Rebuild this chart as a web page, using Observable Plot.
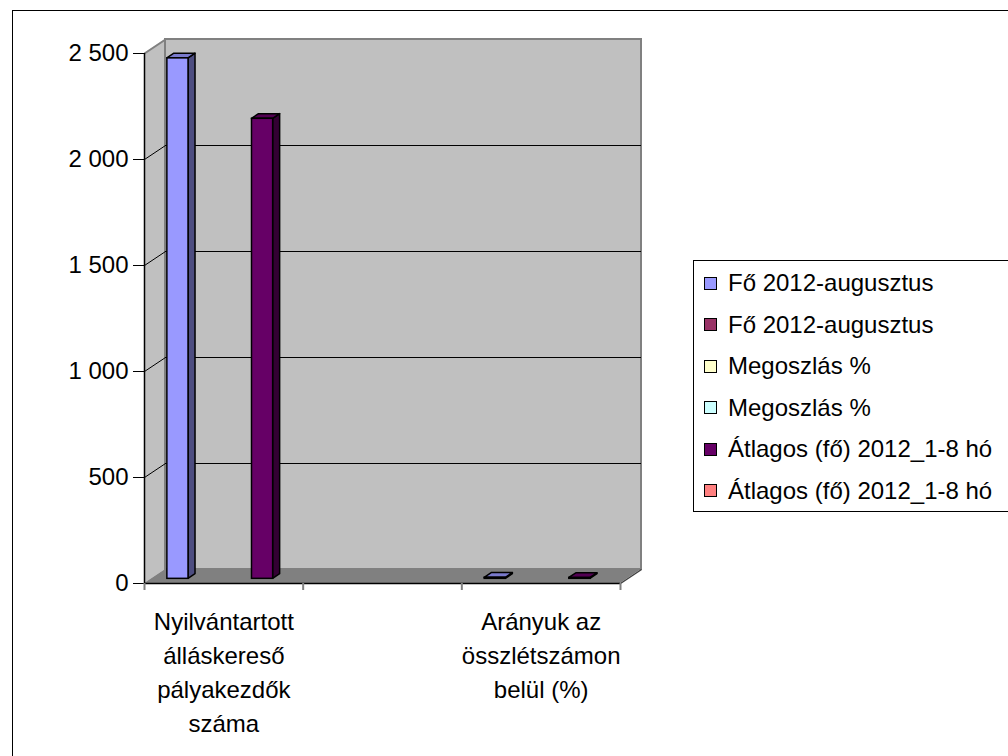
<!DOCTYPE html>
<html><head><meta charset="utf-8">
<script src="https://cdn.jsdelivr.net/npm/d3@7"></script>
<script src="https://cdn.jsdelivr.net/npm/@observablehq/plot@0.6"></script>
<style>
html,body{margin:0;padding:0;background:#fff;overflow:hidden;width:1008px;height:756px;}
body{position:relative;font-family:"Liberation Sans",Arial,sans-serif;}
#frame{position:absolute;left:12px;top:10px;width:1200px;height:1000px;border:1px solid #000;box-sizing:border-box;}
#chart{position:absolute;left:0;top:0;}
#legend{position:absolute;left:693px;top:260px;width:400px;height:252px;border:1px solid #000;box-sizing:border-box;background:#fff;}
.item{position:absolute;left:0;height:30px;display:flex;align-items:center;font-size:24px;color:#000;white-space:nowrap;}
.sw{width:13px;height:13px;border:1px solid #000;box-sizing:border-box;margin-left:10px;margin-right:11px;}
</style></head>
<body>
<div id="frame"></div>
<div id="chart"></div>
<div id="legend"></div>
<script>
// ---- data ----
const categories = ["Nyilvántartott\nálláskereső\npályakezdők\nszáma", "", "Arányuk az\nösszlétszámon\nbelül (%)"];
const seriesNames = ["Fő 2012-augusztus", "Fő 2012-augusztus", "Megoszlás %", "Megoszlás %", "Átlagos (fő) 2012_1-8 hó", "Átlagos (fő) 2012_1-8 hó"];
const seriesColors = ["#9999FF", "#993366", "#FFFFCC", "#CCFFFF", "#660066", "#FF8080"];
const seriesSide = ["#4D4D80", "#4D1A33", "#808066", "#668080", "#330033", "#804040"];
const seriesTop = ["#7A7ACC", "#7A2952", "#CCCCA3", "#A3CCCC", "#520052", "#CC6666"];
// values per series, per category (null = no bar)
const values = [
  [2455, null, 5],
  [null, null, null],
  [null, null, null],
  [null, null, null],
  [2170, null, 4],
  [null, null, null]
];
const yTicks = [0, 500, 1000, 1500, 2000, 2500];

// ---- layout ----
const W = 1008, H = 756, mL = 144, mR = 388, mT = 53, mB = 173;
const nCat = categories.length;
const pxX = (W - mL - mR) / nCat;
const pxY = (H - mT - mB) / 2500;
const DXp = 21, DYp = 14;            // depth in px
const ddx = DXp / pxX, ddy = DYp / pxY;
const barW = 1 / 7.5, gap = barW * 0.75;
const bdx = ddx / 3, bdy = ddy / 3;  // bar depth
const ofx = ddx / 3, ofy = ddy / 3;  // bar front offset

const bars = [];
values.forEach((row, s) => row.forEach((v, c) => {
  if (v != null) {
    const x1 = c + gap + s * barW + ofx;
    bars.push({id: s + "-" + c, s, x1, x2: x1 + barW, y0: ofy, y1: v + ofy});
  }
}));
const sidePts = bars.flatMap(b => [
  {id: b.id, s: b.s, x: b.x2, lo: b.y0, hi: b.y1},
  {id: b.id, s: b.s, x: b.x2 + bdx, lo: b.y0 + bdy, hi: b.y1 + bdy}
]);
const topPts = bars.flatMap(b => [
  {id: b.id, s: b.s, y: b.y1, a: b.x1, b: b.x2},
  {id: b.id, s: b.s, y: b.y1 + bdy, a: b.x1 + bdx, b: b.x2 + bdx}
]);
const inner = yTicks.filter(v => v > 0 && v < 2500);
const fmt = d => d3.format(",")(d).replace(/,/g, " ");

const chart = Plot.plot({
  width: W, height: H,
  marginLeft: mL, marginRight: mR, marginTop: mT, marginBottom: mB,
  style: {fontFamily: "'Liberation Sans', Arial, sans-serif", fontSize: "24px", color: "#000", background: "transparent"},
  x: {domain: [0, nCat], axis: null},
  y: {domain: [0, 2500], ticks: yTicks, tickFormat: fmt, tickSize: 11, tickPadding: 5, label: null},
  marks: [
    // side wall
    Plot.areaY([{x: 0, lo: 0, hi: 2500}, {x: ddx, lo: ddy, hi: 2500 + ddy}], {x: "x", y1: "lo", y2: "hi", fill: "#c0c0c0"}),
    // back wall
    Plot.rect([0], {x1: () => ddx, x2: () => nCat + ddx, y1: () => ddy, y2: () => 2500 + ddy, fill: "#c0c0c0", stroke: "#808080", strokeWidth: 2}),
    Plot.link([2500], {x1: () => 0, y1: d => d, x2: () => ddx, y2: d => d + ddy, stroke: "#808080", strokeWidth: 2}),
    // gridlines
    Plot.ruleY(inner, {y: d => d + ddy, x1: () => ddx, x2: () => nCat + ddx, stroke: "#000", strokeWidth: 1}),
    Plot.link(inner, {x1: () => 0, y1: d => d, x2: () => ddx, y2: d => d + ddy, stroke: "#000", strokeWidth: 1}),
    // floor
    Plot.areaX([{y: 0, a: 0, b: nCat}, {y: ddy, a: ddx, b: nCat + ddx}], {y: "y", x1: "a", x2: "b", fill: "#808080"}),
    Plot.link([0], {x1: () => nCat, y1: () => 0, x2: () => nCat + ddx, y2: () => ddy, stroke: "#404040", strokeWidth: 1.5}),
    // bars
    Plot.areaY(sidePts, {x: "x", y1: "lo", y2: "hi", z: "id", fill: d => seriesSide[d.s], stroke: "#000", strokeWidth: 1.5, strokeLinejoin: "round"}),
    Plot.areaX(topPts, {y: "y", x1: "a", x2: "b", z: "id", fill: d => seriesTop[d.s], stroke: "#000", strokeWidth: 1.5, strokeLinejoin: "round"}),
    Plot.rect(bars, {x1: "x1", x2: "x2", y1: "y0", y2: "y1", fill: d => seriesColors[d.s], stroke: "#000", strokeWidth: 1.5}),
    // axes lines
    Plot.ruleY([0], {x1: () => 0, x2: () => nCat, stroke: "#000", strokeWidth: 1.5}),
    Plot.ruleX([0], {y1: () => 0, y2: () => 2500, stroke: "#000", strokeWidth: 1.5}),
    Plot.ruleX(d3.range(nCat + 1), {y1: () => 0, y2: () => -7 / pxY, stroke: "#808080", strokeWidth: 2}),
    // category labels
    Plot.text(categories.map((t, i) => ({t, x: i + 0.5})), {x: "x", y: () => 0, text: "t", lineAnchor: "top", dy: 22, fontSize: 24, lineHeight: 1.417, fill: "#000"})
  ]
});
document.getElementById("chart").appendChild(chart);

// legend
const lg = document.getElementById("legend");
seriesNames.forEach((n, i) => {
  const it = document.createElement("div");
  it.className = "item";
  it.style.top = (7 + i * 41.5) + "px";
  const sw = document.createElement("div");
  sw.className = "sw";
  sw.style.background = seriesColors[i];
  const tx = document.createElement("span");
  tx.textContent = n;
  it.appendChild(sw); it.appendChild(tx);
  lg.appendChild(it);
});
</script>
</body></html>
